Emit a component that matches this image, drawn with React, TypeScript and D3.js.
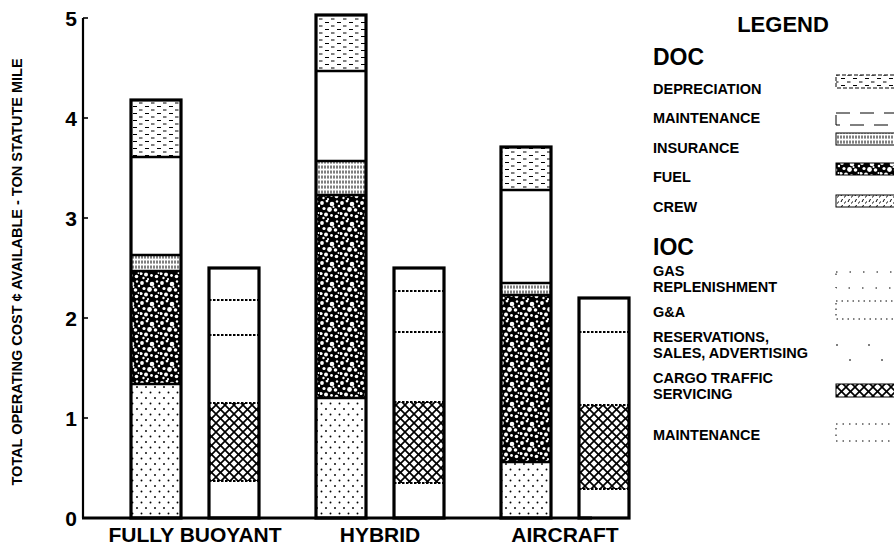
import React from "react";
import * as d3 from "d3";

const groups = ["FULLY BUOYANT", "HYBRID", "AIRCRAFT"];
const barTypes = ["DOC", "IOC"];

// DOC components (bottom to top)
const docCrew = [1.34, 1.2, 0.56];
const docFuel = [1.13, 2.03, 1.67];
const docInsurance = [0.16, 0.34, 0.12];
const docMaintenance = [0.98, 0.9, 0.93];
const docDepreciation = [0.57, 0.56, 0.43];

// IOC components (bottom to top)
const iocMaintenance = [0.37, 0.35, 0.29];
const iocCargo = [0.78, 0.81, 0.84];
const iocReservations = [0.68, 0.7, 0.73];
const iocGA = [0.35, 0.41, 0.34];
const iocGas = [0.32, 0.23, 0];

const yTicks = [0, 1, 2, 3, 4, 5];

const docSeries = [
  { key: "crew", values: docCrew, fill: "url(#crew)" },
  { key: "fuel", values: docFuel, fill: "url(#fuel)" },
  { key: "insurance", values: docInsurance, fill: "url(#insurance)" },
  { key: "maintenance", values: docMaintenance, fill: "#fff" },
  { key: "depreciation", values: docDepreciation, fill: "url(#depreciation)" },
];
const iocSeries = [
  { key: "maint", values: iocMaintenance, fill: "#fff" },
  { key: "cargo", values: iocCargo, fill: "url(#cargo)" },
  { key: "res", values: iocReservations, fill: "#fff" },
  { key: "ga", values: iocGA, fill: "#fff" },
  { key: "gas", values: iocGas, fill: "#fff" },
];

const FONT = "'Liberation Sans', Arial, Helvetica, sans-serif";

const W = 894;
const H = 546;

export default function App() {
  const y = d3.scaleLinear().domain([0, 5]).range([518, 18]);
  const x0 = d3.scaleBand().domain(groups).range([102.5, 657.5]);
  const x1 = d3
    .scaleBand()
    .domain(barTypes)
    .range([28.5, 156.5])
    .paddingInner(0.359)
    .paddingOuter(0);

  const renderStack = (series: typeof docSeries, type: string, gi: number) => {
    const bx = (x0(groups[gi]) as number) + (x1(type) as number);
    const bw = x1.bandwidth();
    const stack = d3
      .stack<number>()
      .keys(series.map((s) => s.key))
      .value((_, k) => series.find((s) => s.key === k)!.values[gi]);
    const layers = stack([0]);
    const total = d3.sum(series, (s) => s.values[gi]);
    const dotted = type === "IOC";
    return (
      <g key={type + gi}>
        {layers.map((layer, li) => {
          const [a, b] = layer[0];
          if (b - a <= 0) return null;
          return (
            <rect
              key={li}
              x={bx}
              y={y(b)}
              width={bw}
              height={y(a) - y(b)}
              fill={series[li].fill}
            />
          );
        })}
        {layers.slice(0, -1).map((layer, li) => {
          const top = layer[0][1];
          if (top >= total - 1e-6) return null;
          return (
            <line
              key={"s" + li}
              x1={bx}
              x2={bx + bw}
              y1={y(top)}
              y2={y(top)}
              stroke="#000"
              strokeWidth={dotted ? 2.2 : 2.4}
              strokeDasharray={dotted ? "2.5,1.5" : undefined}
            />
          );
        })}
        <rect
          x={bx}
          y={y(total)}
          width={bw}
          height={y(0) - y(total)}
          fill="none"
          stroke="#000"
          strokeWidth={3.2}
        />
      </g>
    );
  };

  const legendDoc = [
    { lines: ["DEPRECIATION"], base: 94, sy: 75, sh: 13, fill: "url(#depreciation)", dash: "4,2" },
    { lines: ["MAINTENANCE"], base: 123, sy: 113, sh: 12, fill: "#fff", dash: "14,10" },
    { lines: ["INSURANCE"], base: 153, sy: 133, sh: 12, fill: "url(#insurance)", dash: undefined },
    { lines: ["FUEL"], base: 182, sy: 163, sh: 12, fill: "url(#fuel)", dash: undefined },
    { lines: ["CREW"], base: 212, sy: 195, sh: 12, fill: "url(#crewl)", dash: undefined },
  ];
  const legendIoc = [
    { lines: ["GAS", "REPLENISHMENT"], base: 276, sy: 272, sh: 16, fill: "#fff", dash: "1.5,12" },
    { lines: ["G&A"], base: 317, sy: 301, sh: 18, fill: "#fff", dash: "1.5,4" },
    { lines: ["RESERVATIONS,", "SALES, ADVERTISING"], base: 342, sy: 345, sh: 15, fill: "#fff", dash: "2,30" },
    { lines: ["CARGO TRAFFIC", "SERVICING"], base: 383, sy: 384, sh: 13, fill: "url(#cargo)", dash: undefined },
    { lines: ["MAINTENANCE"], base: 440, sy: 424, sh: 17, fill: "#fff", dash: "1.5,5" },
  ];

  const fuelBlobs = [
    [2, 3, 1.9], [7, 1, 1.4], [12, 4, 2.3], [17, 1.5, 1.2], [4, 8.5, 1.6],
    [9.5, 9.5, 2.4], [15.5, 10, 1.8], [1, 13.5, 1.6], [6, 14.5, 2.0],
    [11.5, 15.5, 1.4], [16.5, 16.5, 1.8], [13.5, 7, 1.1], [3.5, 18, 1.2],
    [19, 6, 1.3], [8, 19, 1.1], [18.5, 13, 1.0],
  ];

  return (
    <svg
      width={W}
      height={H}
      style={{ position: "absolute", left: 0, top: 0, background: "#fff" }}
      fontFamily={FONT}
      fontWeight="bold"
    >
      <defs>
        <pattern id="depreciation" width="12" height="7" patternUnits="userSpaceOnUse">
          <rect width="12" height="7" fill="#fff" />
          <line x1="1" y1="1.5" x2="5" y2="1.5" stroke="#000" strokeWidth="1" />
          <line x1="7" y1="5" x2="10.5" y2="5" stroke="#000" strokeWidth="1" />
        </pattern>
        <pattern id="insurance" width="3" height="5" patternUnits="userSpaceOnUse">
          <rect width="3" height="5" fill="#fff" />
          <line x1="1" y1="0.5" x2="1" y2="3.6" stroke="#000" strokeWidth="1" />
        </pattern>
        <pattern id="fuel" width="20" height="20" patternUnits="userSpaceOnUse">
          <rect width="20" height="20" fill="#000" />
          {fuelBlobs.map(([cx, cy, r], i) => (
            <circle key={i} cx={cx} cy={cy} r={r} fill="#fff" />
          ))}
        </pattern>
        <pattern id="crew" width="9" height="11" patternUnits="userSpaceOnUse">
          <rect width="9" height="11" fill="#fff" />
          <circle cx="2" cy="2" r="0.95" fill="#000" />
          <circle cx="6.5" cy="7.5" r="0.95" fill="#000" />
        </pattern>
        <pattern id="crewl" width="7" height="6" patternUnits="userSpaceOnUse">
          <rect width="7" height="6" fill="#fff" />
          <line x1="1" y1="4" x2="2.5" y2="1" stroke="#000" strokeWidth="1" />
          <line x1="4.5" y1="5.5" x2="5.5" y2="3.5" stroke="#000" strokeWidth="1" />
        </pattern>
        <pattern id="cargo" width="9" height="9" patternUnits="userSpaceOnUse">
          <rect width="9" height="9" fill="#fff" />
          <line x1="0" y1="0" x2="9" y2="9" stroke="#000" strokeWidth="1.7" />
          <line x1="9" y1="0" x2="0" y2="9" stroke="#000" strokeWidth="1.7" />
        </pattern>
      </defs>

      {/* y axis */}
      <line x1={83} x2={83} y1={y(5)} y2={y(0)} stroke="#000" strokeWidth={2.2} />
      {yTicks.map((t) => (
        <g key={t}>
          <line x1={83} x2={88} y1={y(t)} y2={y(t)} stroke="#000" strokeWidth={1.6} />
          <text
            x={77}
            y={y(t)}
            dy="0.36em"
            textAnchor="end"
            fontSize={21}
            fill="#000"
          >
            {t}
          </text>
        </g>
      ))}
      <text
        transform={`translate(22,${272}) rotate(-90)`}
        textAnchor="middle"
        fontSize={14.5}
        fill="#000"
      >
        TOTAL OPERATING COST ¢ AVAILABLE - TON STATUTE MILE
      </text>

      {/* bars */}
      {groups.map((_, gi) => (
        <g key={gi}>
          {renderStack(docSeries, "DOC", gi)}
          {renderStack(iocSeries, "IOC", gi)}
        </g>
      ))}

      {/* baseline */}
      <line x1={82} x2={592} y1={y(0)} y2={y(0)} stroke="#000" strokeWidth={3} />

      {/* x labels */}
      {groups.map((g) => (
        <text
          key={g}
          x={(x0(g) as number) + x0.bandwidth() / 2}
          y={542}
          textAnchor="middle"
          fontSize={21}
          fill="#000"
        >
          {g}
        </text>
      ))}

      {/* legend */}
      <text x={783} y={32} textAnchor="middle" fontSize={22} fill="#000">
        LEGEND
      </text>
      <text x={653} y={65} fontSize={23} fill="#000">
        DOC
      </text>
      <text x={653} y={255} fontSize={23} fill="#000">
        IOC
      </text>
      {[...legendDoc, ...legendIoc].map((item, i) => (
        <g key={i}>
          <text x={653} y={item.base} fontSize={14.5} fill="#000">
            {item.lines.map((ln, li) => (
              <tspan key={li} x={653} dy={li === 0 ? 0 : 16}>
                {ln}
              </tspan>
            ))}
          </text>
          <rect
            x={836}
            y={item.sy}
            width={80}
            height={item.sh}
            fill={item.fill}
            stroke="#000"
            strokeWidth={1}
            strokeDasharray={item.dash}
          />
        </g>
      ))}
    </svg>
  );
}
